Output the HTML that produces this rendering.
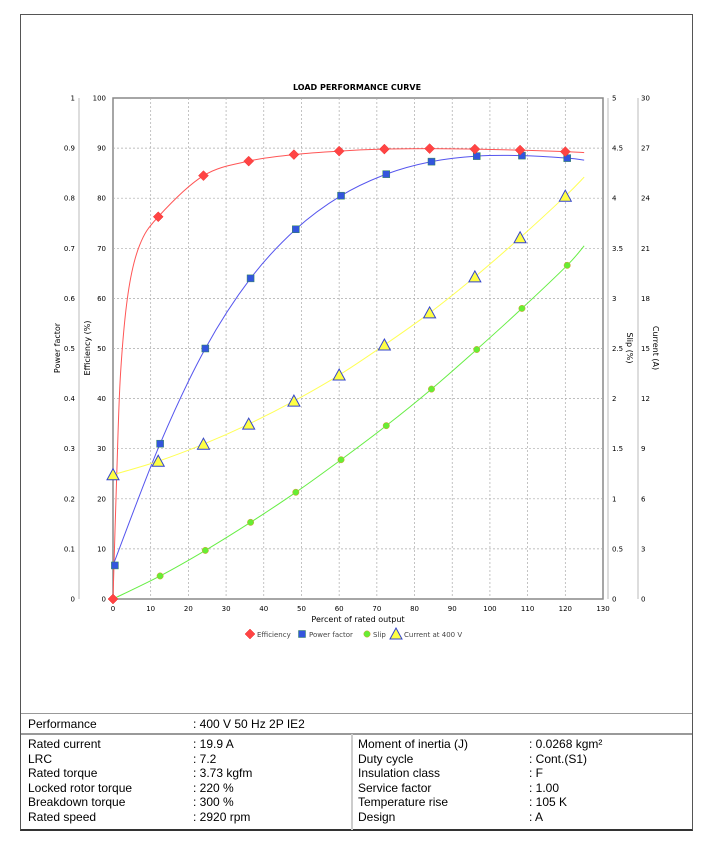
<!DOCTYPE html>
<html><head><meta charset="utf-8"><style>
body{margin:0;background:#fff;width:715px;height:851px;position:relative;font-family:"Liberation Sans",sans-serif;}
.t{position:absolute;font-size:12px;color:#000;white-space:nowrap}
</style></head><body>
<div style="position:absolute;left:20px;top:14px;width:673px;height:817px;border:1px solid #555;border-bottom:2px solid #333;box-sizing:border-box"></div>
<div style="position:absolute;left:21px;top:713px;width:671px;height:1px;background:#999"></div>
<div style="position:absolute;left:21px;top:733px;width:671px;height:2px;background:#999"></div>
<div style="position:absolute;left:351px;top:734px;width:2px;height:96px;background:#ccc"></div>
<div class="t" style="left:28px;top:717px">Performance</div>
<div class="t" style="left:193px;top:717px">: 400 V 50 Hz 2P IE2</div>
<div class="t" style="left:28px;top:737px;line-height:14.5px">Rated current<br>LRC<br>Rated torque<br>Locked rotor torque<br>Breakdown torque<br>Rated speed</div>
<div class="t" style="left:193px;top:737px;line-height:14.5px">: 19.9 A<br>: 7.2<br>: 3.73 kgfm<br>: 220 %<br>: 300 %<br>: 2920 rpm</div>
<div class="t" style="left:358px;top:737px;line-height:14.5px">Moment of inertia (J)<br>Duty cycle<br>Insulation class<br>Service factor<br>Temperature rise<br>Design</div>
<div class="t" style="left:529px;top:737px;line-height:14.5px">: 0.0268 kgm²<br>: Cont.(S1)<br>: F<br>: 1.00<br>: 105 K<br>: A</div>
<svg id="s" width="715" height="700" style="position:absolute;left:0;top:0" font-family="DejaVu Sans, sans-serif" font-size="7"></svg>
<script>
const X=x=>113+x*490/130, Y=v=>599-v*5.01;
let h='';
h+='<text x="357" y="90" text-anchor="middle" font-weight="bold" font-size="8">LOAD PERFORMANCE CURVE</text>';
h+='<rect x="113" y="98" width="490" height="501" fill="#fff" stroke="#888" stroke-width="1.5"/>';
for(let i=1;i<13;i++)h+=`<line x1="${X(i*10)}" y1="98" x2="${X(i*10)}" y2="599" stroke="#aaa" stroke-width="0.7" stroke-dasharray="2,2"/>`;
for(let i=1;i<10;i++)h+=`<line x1="113" y1="${Y(i*10)}" x2="603" y2="${Y(i*10)}" stroke="#aaa" stroke-width="0.7" stroke-dasharray="2,2"/>`;
// axes
h+='<line x1="79" y1="98" x2="79" y2="599" stroke="#bbb"/><line x1="608" y1="98" x2="608" y2="599" stroke="#bbb"/><line x1="638" y1="98" x2="638" y2="599" stroke="#bbb"/>';
for(let i=0;i<=10;i++){const y=Y(i*10)+2.5;
h+=`<text x="75" y="${y}" text-anchor="end">${i==10?'1':i==0?'0':(i/10).toFixed(1)}</text>`;
h+=`<text x="106" y="${y}" text-anchor="end">${i==10?'100':i*10}</text>`;
h+=`<text x="612" y="${y}">${i%2?(i/2).toFixed(1):i/2}</text>`;
h+=`<text x="641" y="${y}">${i*3}</text>`;}
for(let i=0;i<=13;i++)h+=`<text x="${X(i*10)}" y="611" text-anchor="middle">${i*10}</text>`;
h+='<text x="358" y="622" text-anchor="middle" font-size="8">Percent of rated output</text>';
h+='<text transform="translate(60,348) rotate(-90)" text-anchor="middle" font-size="8">Power factor</text>';
h+='<text transform="translate(90,348) rotate(-90)" text-anchor="middle" font-size="8">Efficiency (%)</text>';
h+='<text transform="translate(627,348) rotate(90)" text-anchor="middle" font-size="8">Slip (%)</text>';
h+='<text transform="translate(653,348) rotate(90)" text-anchor="middle" font-size="8">Current (A)</text>';
function cr(p){let d=`M${X(p[0][0])},${Y(p[0][1])}`;for(let i=0;i<p.length-1;i++){const p0=p[i-1]||p[i],p1=p[i],p2=p[i+1],p3=p[i+2]||p2;
const c1=[p1[0]+(p2[0]-p0[0])/6,p1[1]+(p2[1]-p0[1])/6],c2=[p2[0]-(p3[0]-p1[0])/6,p2[1]-(p3[1]-p1[1])/6];
d+=`C${X(c1[0])},${Y(c1[1])} ${X(c2[0])},${Y(c2[1])} ${X(p2[0])},${Y(p2[1])}`;}return d;}
const eff=[[0,0],[12,76.3],[24,84.5],[36,87.4],[48,88.7],[60,89.4],[72,89.8],[84,89.9],[96,89.8],[108,89.6],[120,89.3]];
const effC=[[0,0],[1,25],[2,45],[4,61],[7,70.5],[12,76.3],[24,84.5],[36,87.4],[48,88.7],[60,89.4],[72,89.8],[84,89.9],[96,89.8],[108,89.6],[120,89.3],[125,89.1]];
const pf=[[0.5,6.7],[12.5,31],[24.5,50],[36.5,64],[48.5,73.8],[60.5,80.5],[72.5,84.8],[84.5,87.3],[96.5,88.4],[108.5,88.5],[120.5,88]];
const pfC=[[0,6.7],[12.5,31],[24.5,50],[36.5,64],[48.5,73.8],[60.5,80.5],[72.5,84.8],[84.5,87.3],[96.5,88.4],[108.5,88.5],[120.5,88],[125,87.6]];
const sl=[[0,0],[12.5,4.6],[24.5,9.7],[36.5,15.3],[48.5,21.3],[60.5,27.8],[72.5,34.6],[84.5,41.9],[96.5,49.8],[108.5,58],[120.5,66.6]];
const cu=[[0,24.8],[12,27.5],[24,30.9],[36,34.9],[48,39.5],[60,44.7],[72,50.7],[84,57.1],[96,64.3],[108,72.1],[120,80.4]];
h+=`<path d="${cr(effC)}" fill="none" stroke="#ff5555" stroke-width="1"/>`;
h+=`<path d="${cr(pfC)}" fill="none" stroke="#5555ee" stroke-width="1"/>`;
h+=`<path d="${cr(sl.concat([[125,70.5]]))}" fill="none" stroke="#66ee44" stroke-width="1"/>`;
h+=`<path d="${cr(cu.concat([[125,84.2]]))}" fill="none" stroke="#ffff55" stroke-width="1"/>`;
const dia=(x,y)=>`<path d="M${x},${y-5}L${x+5},${y}L${x},${y+5}L${x-5},${y}Z" fill="#ff4444" stroke="#e33" stroke-width="0.5"/>`;
const sq=(x,y)=>`<rect x="${x-3.5}" y="${y-3.5}" width="7" height="7" fill="#3355dd" stroke="#338855" stroke-width="0.5"/>`;
const ci=(x,y)=>`<circle cx="${x}" cy="${y}" r="3.2" fill="#66ee33" stroke="#dd9933" stroke-width="0.5"/>`;
const tr=(x,y)=>`<path d="M${x},${y-6}L${x+6},${y+5}L${x-6},${y+5}Z" fill="#ffff44" stroke="#3344cc" stroke-width="1"/>`;
sl.forEach(p=>h+=ci(X(p[0]),Y(p[1])));
cu.forEach(p=>h+=tr(X(p[0]),Y(p[1])));
pf.forEach(p=>h+=sq(X(p[0]),Y(p[1])));
eff.forEach(p=>h+=dia(X(p[0]),Y(p[1])));
// legend
h+=dia(250,634)+'<text x="257" y="637" fill="#444">Efficiency</text>';
h+=sq(302,634)+'<text x="309" y="637" fill="#444">Power factor</text>';
h+=ci(367,634)+'<text x="373" y="637" fill="#444">Slip</text>';
h+=tr(396,634)+'<text x="404" y="637" fill="#444">Current at 400 V</text>';
document.getElementById('s').innerHTML=h;
</script>
</body></html>
